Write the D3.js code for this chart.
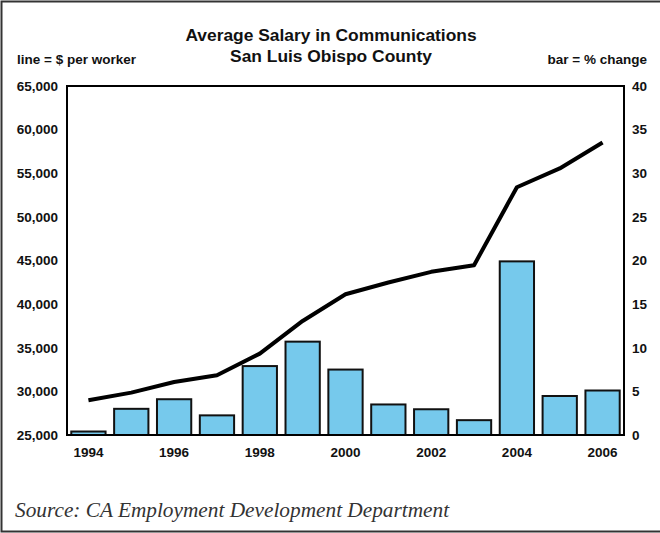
<!DOCTYPE html>
<html>
<head>
<meta charset="utf-8">
<script src="https://cdn.jsdelivr.net/npm/d3@7"></script>
<style>
  body { margin: 0; background: #fff; }
  svg text { font-family: "Liberation Sans", Arial, sans-serif; font-weight: bold; fill: #111; }
</style>
</head>
<body>
<svg id="chart" width="660" height="533"></svg>
<script>
// years on the x axis
var years = [1994, 1995, 1996, 1997, 1998, 1999, 2000, 2001, 2002, 2003, 2004, 2005, 2006];
// line = average $ per worker
var salary = [28980, 29860, 31080, 31850, 34330, 38070, 41130, 42480, 43700, 44460, 53400, 55550, 58530];
// bar = % change from the year before
var pctChange = [0.4, 3.0, 4.1, 2.25, 7.9, 10.7, 7.5, 3.5, 2.95, 1.7, 19.9, 4.47, 5.1];
var leftTicks = [25000, 30000, 35000, 40000, 45000, 50000, 55000, 60000, 65000];
var rightTicks = [0, 5, 10, 15, 20, 25, 30, 35, 40];
var yearLabels = [1994, 1996, 1998, 2000, 2002, 2004, 2006];

var svg = d3.select("#chart"),
    margin = {top: 86, right: 36, bottom: 98, left: 67},
    width = 660 - margin.left - margin.right,
    height = 533 - margin.top - margin.bottom;

// outer frame
svg.append("rect")
    .attr("x", 1.5).attr("y", 1.5)
    .attr("width", 662).attr("height", 530)
    .style("fill", "none").style("stroke", "#333").style("stroke-width", 2);

var x = d3.scaleBand()
    .domain(years)
    .range([margin.left, margin.left + width])
    .paddingInner(0.2)
    .paddingOuter(0.1);

var yLeft = d3.scaleLinear()
    .domain([25000, 65000])
    .range([margin.top + height, margin.top]);

var yRight = d3.scaleLinear()
    .domain([0, 40])
    .range([margin.top + height, margin.top]);

// bars
svg.append("g")
  .selectAll("rect")
  .data(pctChange)
  .enter().append("rect")
    .attr("x", function(d, i) { return x(years[i]); })
    .attr("y", function(d) { return yRight(d); })
    .attr("width", x.bandwidth())
    .attr("height", function(d) { return yRight(0) - yRight(d); })
    .style("fill", "#76c9ec")
    .style("stroke", "#111")
    .style("stroke-width", 2);

// salary line
var line = d3.line()
    .x(function(d, i) { return x(years[i]) + x.bandwidth() / 2; })
    .y(function(d) { return yLeft(d); });

svg.append("path")
    .datum(salary)
    .attr("d", line)
    .style("fill", "none")
    .style("stroke", "#000")
    .style("stroke-width", 4)
    .style("stroke-linejoin", "round");

// plot box (left, top, right, bottom)
svg.append("rect")
    .attr("x", margin.left).attr("y", margin.top)
    .attr("width", width).attr("height", height)
    .style("fill", "none").style("stroke", "#000").style("stroke-width", 2);

// left axis labels
var leftAxis = d3.axisLeft(yLeft).tickValues(leftTicks).tickSize(0).tickPadding(9)
    .tickFormat(d3.format(","));
svg.append("g")
    .attr("transform", "translate(" + margin.left + ",0)")
    .call(leftAxis)
    .call(function(g) { g.select(".domain").remove(); })
    .selectAll("text").style("font-size", "13.5px");

// right axis labels
var rightAxis = d3.axisRight(yRight).tickValues(rightTicks).tickSize(0).tickPadding(8);
svg.append("g")
    .attr("transform", "translate(" + (margin.left + width) + ",0)")
    .call(rightAxis)
    .call(function(g) { g.select(".domain").remove(); })
    .selectAll("text").style("font-size", "13.5px");

// year labels
var xAxis = d3.axisBottom(x).tickValues(yearLabels).tickSize(0).tickPadding(12);
svg.append("g")
    .attr("transform", "translate(0," + (margin.top + height) + ")")
    .call(xAxis)
    .call(function(g) { g.select(".domain").remove(); })
    .selectAll("text").style("font-size", "13.5px");

// titles
svg.append("text")
    .attr("x", 331).attr("y", 41)
    .attr("text-anchor", "middle")
    .style("font-size", "17.4px")
    .text("Average Salary in Communications");
svg.append("text")
    .attr("x", 331).attr("y", 62)
    .attr("text-anchor", "middle")
    .style("font-size", "17.4px")
    .text("San Luis Obispo County");

svg.append("text")
    .attr("x", 17).attr("y", 64)
    .style("font-size", "13.5px")
    .text("line = $ per worker");
svg.append("text")
    .attr("x", 647).attr("y", 64)
    .attr("text-anchor", "end")
    .style("font-size", "13.5px")
    .text("bar = % change");

// source
svg.append("text")
    .attr("x", 15).attr("y", 517)
    .style("font-family", "'Liberation Serif', 'Times New Roman', serif")
    .style("font-style", "italic")
    .style("font-weight", "normal")
    .style("font-size", "21.3px")
    .style("fill", "#333")
    .text("Source: CA Employment Development Department");
</script>
</body>
</html>
